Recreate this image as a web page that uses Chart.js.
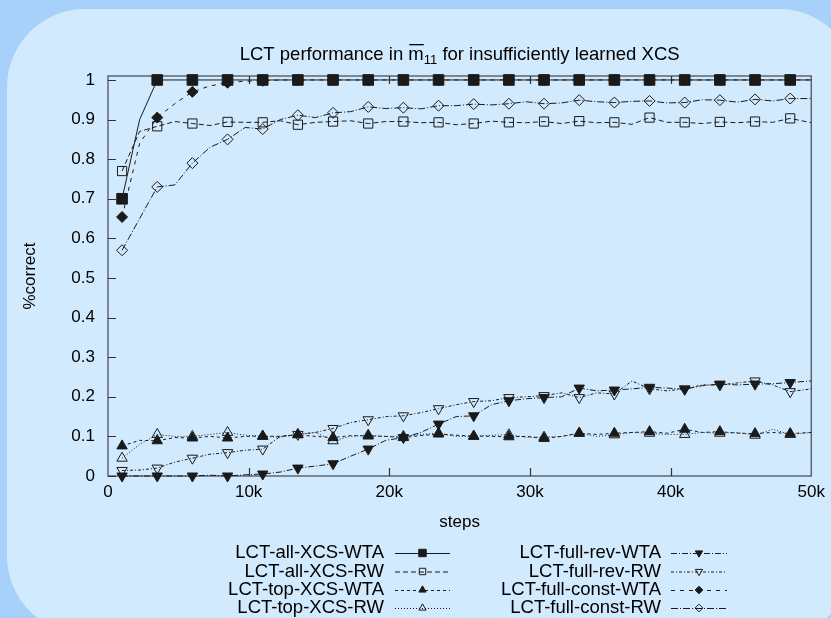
<!DOCTYPE html>
<html>
<head>
<meta charset="utf-8">
<script src="https://cdn.jsdelivr.net/npm/chart.js@4"></script>
<style>
  body { margin: 0; background: #a7d0fa; width: 831px; height: 618px; overflow: hidden; position: relative; font-family: "Liberation Sans", Arial, sans-serif; }
  #panel { position: absolute; left: 7px; top: 9px; width: 850px; height: 625px; background: #d2eafd; border-radius: 78px; }
  #c { position: absolute; left: 0; top: 0; }
</style>
</head>
<body>
<div id="panel"></div>
<canvas id="c" width="831" height="618"></canvas>
<script>
// x positions (steps) of the sampled values
const steps = [1000, 2250, 3500, 4750, 6000, 7250, 8500, 9750, 11000, 12250,
  13500, 14750, 16000, 17250, 18500, 19750, 21000, 22250, 23500, 24750,
  26000, 27250, 28500, 29750, 31000, 32250, 33500, 34750, 36000, 37250,
  38500, 39750, 41000, 42250, 43500, 44750, 46000, 47250, 48500, 50000];

const allXcsWta = [0.70, 0.90, 1, 1, 1, 1, 1, 1, 1, 1,
  1, 1, 1, 1, 1, 1, 1, 1, 1, 1,
  1, 1, 1, 1, 1, 1, 1, 1, 1, 1,
  1, 1, 1, 1, 1, 1, 1, 1, 1, 1];
const allXcsRw = [0.77, 0.87, 0.883, 0.895, 0.89, 0.885, 0.894, 0.893, 0.893, 0.897,
  0.887, 0.893, 0.895, 0.897, 0.89, 0.895, 0.895, 0.892, 0.893, 0.887,
  0.89, 0.896, 0.893, 0.892, 0.895, 0.89, 0.896, 0.892, 0.893, 0.888,
  0.905, 0.893, 0.893, 0.89, 0.894, 0.892, 0.895, 0.893, 0.903, 0.892];
const topXcsWta = [0.076, 0.09, 0.089, 0.097, 0.096, 0.1, 0.096, 0.1, 0.101, 0.1,
  0.104, 0.1, 0.097, 0.102, 0.101, 0.1, 0.097, 0.102, 0.106, 0.103,
  0.101, 0.1, 0.099, 0.1, 0.095, 0.1, 0.108, 0.105, 0.108, 0.11,
  0.112, 0.108, 0.118, 0.11, 0.112, 0.108, 0.107, 0.11, 0.107, 0.11];
const topXcsRw = [0.045, 0.08, 0.105, 0.1, 0.1, 0.105, 0.11, 0.103, 0.1, 0.098,
  0.105, 0.11, 0.089, 0.1, 0.103, 0.1, 0.1, 0.105, 0.108, 0.1,
  0.1, 0.103, 0.104, 0.098, 0.098, 0.1, 0.108, 0.1, 0.104, 0.11,
  0.108, 0.105, 0.105, 0.11, 0.108, 0.11, 0.103, 0.118, 0.105, 0.11];
const fullRevWta = [0, 0, 0, 0, 0, 0.002, 0, 0.003, 0.005, 0.01,
  0.02, 0.025, 0.031, 0.05, 0.068, 0.09, 0.097, 0.11, 0.131, 0.15,
  0.152, 0.18, 0.19, 0.195, 0.198, 0.2, 0.222, 0.215, 0.217, 0.22,
  0.224, 0.222, 0.219, 0.228, 0.232, 0.23, 0.232, 0.233, 0.236, 0.24];
const fullRevRw = [0.014, 0.015, 0.02, 0.035, 0.045, 0.055, 0.059, 0.065, 0.068, 0.1,
  0.105, 0.11, 0.12, 0.135, 0.142, 0.15, 0.152, 0.16, 0.17, 0.18,
  0.188, 0.19, 0.198, 0.2, 0.203, 0.21, 0.198, 0.21, 0.207, 0.24,
  0.22, 0.215, 0.22, 0.23, 0.23, 0.235, 0.24, 0.23, 0.213, 0.22];
const fullConstWta = [0.654, 0.84, 0.905, 0.94, 0.97, 0.985, 0.993, 0.997, 0.998, 1,
  1, 1, 1, 1, 1, 1, 1, 1, 1, 1,
  1, 1, 1, 1, 1, 1, 1, 1, 1, 1,
  1, 1, 1, 1, 1, 1, 1, 1, 1, 1];
const fullConstRw = [0.57, 0.65, 0.73, 0.735, 0.79, 0.83, 0.85, 0.88, 0.876, 0.9,
  0.911, 0.905, 0.917, 0.92, 0.932, 0.928, 0.93, 0.927, 0.935, 0.935,
  0.939, 0.937, 0.94, 0.945, 0.94, 0.942, 0.949, 0.945, 0.943, 0.946,
  0.947, 0.942, 0.943, 0.95, 0.949, 0.944, 0.951, 0.947, 0.953, 0.953];

const yTicks = [0, 0.1, 0.2, 0.3, 0.4, 0.5, 0.6, 0.7, 0.8, 0.9, 1];
const xTicks = [0, 10000, 20000, 30000, 40000, 50000];

const FONT = '"Liberation Sans", Arial, sans-serif';
const INK = '#1a1a1a';

function series(label, values, dash, style, radius, filled, rotation) {
  return {
    label: label,
    data: steps.map((s, i) => ({ x: s, y: values[i] })),
    borderColor: INK,
    borderWidth: 1,
    borderDash: dash,
    pointStyle: style,
    rotation: rotation || 0,
    pointBorderColor: INK,
    pointBorderWidth: 1,
    pointBackgroundColor: filled ? INK : 'rgba(0,0,0,0)',
    pointRadius: ctx => (ctx.dataIndex % 2 === 0 && ctx.dataIndex < 39) ? radius : 0,
    pointHoverRadius: 0,
    tension: 0,
    clip: false,
    legendRadius: radius * 0.7
  };
}

// frame, inward ticks, title and two-column legend
const decor = {
  id: 'decor',
  beforeDatasetsDraw(chart) {
    const { ctx, chartArea: a, scales } = chart;
    ctx.save();
    ctx.strokeStyle = '#5f6672';
    ctx.lineWidth = 1.5;
    ctx.strokeRect(a.left, a.top, a.right - a.left, a.bottom - a.top);
    ctx.lineWidth = 1.2;
    ctx.strokeStyle = '#333';
    ctx.beginPath();
    yTicks.forEach(v => {
      const y = Math.round(scales.y.getPixelForValue(v)) + 0.5;
      ctx.moveTo(a.left, y); ctx.lineTo(a.left + 8, y);
    });
    xTicks.slice(1, -1).forEach(v => {
      const x = Math.round(scales.x.getPixelForValue(v)) + 0.5;
      ctx.moveTo(x, a.bottom); ctx.lineTo(x, a.bottom - 8);
      ctx.moveTo(x, a.top); ctx.lineTo(x, a.top + 8);
    });
    ctx.stroke();
    ctx.restore();
  },
  afterDraw(chart) {
    const { ctx, chartArea: a } = chart;
    ctx.save();
    // title with overlined m and subscript 11
    const big = '18.5px ' + FONT, small = '13px ' + FONT;
    const p1 = 'LCT performance in ', m = 'm', sub = '11', p2 = ' for insufficiently learned XCS';
    ctx.font = big;
    const w1 = ctx.measureText(p1).width, wm = ctx.measureText(m).width, w2 = ctx.measureText(p2).width;
    ctx.font = small;
    const ws = ctx.measureText(sub).width;
    let x = (a.left + a.right) / 2 - (w1 + wm + ws + w2) / 2;
    const base = 60;
    ctx.fillStyle = '#000';
    ctx.textBaseline = 'alphabetic';
    ctx.textAlign = 'left';
    ctx.font = big;
    ctx.fillText(p1, x, base); x += w1;
    ctx.fillText(m, x, base);
    ctx.fillRect(x + 1, base - 16, wm - 1, 1.3);
    x += wm;
    ctx.font = small;
    ctx.fillText(sub, x, base + 4); x += ws;
    ctx.font = big;
    ctx.fillText(p2, x, base);

    // legend
    const cols = [{ textRight: 384, x1: 395, x2: 450 }, { textRight: 661, x1: 671, x2: 727 }];
    const rows = [553, 571.5, 590, 608];
    chart.data.datasets.forEach((ds, i) => {
      const c = cols[Math.floor(i / 4)], y = rows[i % 4];
      ctx.font = '18.5px ' + FONT;
      ctx.textAlign = 'right';
      ctx.textBaseline = 'middle';
      ctx.fillStyle = '#000';
      ctx.fillText(ds.label, c.textRight, y);
      ctx.strokeStyle = INK;
      ctx.lineWidth = 1;
      ctx.setLineDash(ds.borderDash);
      ctx.beginPath();
      ctx.moveTo(c.x1, y + 0.5); ctx.lineTo(c.x2, y + 0.5);
      ctx.stroke();
      ctx.setLineDash([]);
      ctx.fillStyle = ds.pointBackgroundColor;
      Chart.helpers.drawPoint(ctx, { pointStyle: ds.pointStyle, rotation: ds.rotation, radius: ds.legendRadius, borderWidth: 1 }, (c.x1 + c.x2) / 2, y);
    });
    ctx.restore();
  }
};

new Chart(document.getElementById('c'), {
  type: 'line',
  data: {
    datasets: [
      series('LCT-all-XCS-WTA', allXcsWta, [], 'rect', 7.5, true),
      series('LCT-all-XCS-RW', allXcsRw, [5, 3], 'rect', 6.5, false),
      series('LCT-top-XCS-WTA', topXcsWta, [3, 3], 'triangle', 6, true),
      series('LCT-top-XCS-RW', topXcsRw, [1, 2], 'triangle', 6, false),
      series('LCT-full-rev-WTA', fullRevWta, [6, 2, 1, 2], 'triangle', 6, true, 180),
      series('LCT-full-rev-RW', fullRevRw, [3, 2, 1, 2], 'triangle', 6, false, 180),
      series('LCT-full-const-WTA', fullConstWta, [4, 5], 'rectRot', 5.5, true),
      series('LCT-full-const-RW', fullConstRw, [7, 2, 1, 2], 'rectRot', 5.5, false)
    ]
  },
  options: {
    responsive: false,
    animation: false,
    devicePixelRatio: 1,
    layout: { padding: { top: 76, right: 18, bottom: 80, left: 0 } },
    plugins: { legend: { display: false }, title: { display: false }, tooltip: { enabled: false } },
    scales: {
      x: {
        type: 'linear',
        min: 0,
        max: 50000,
        afterFit: s => { s.height = 62; },
        grid: { display: false, drawTicks: false },
        border: { display: false },
        ticks: {
          stepSize: 10000,
          padding: 6,
          color: '#000',
          font: { family: FONT, size: 17 },
          maxRotation: 0,
          callback: v => v === 0 ? '0' : (v / 1000) + 'k'
        },
        title: { display: true, text: 'steps', color: '#000', font: { family: FONT, size: 17 }, padding: { top: 0, bottom: 5 } }
      },
      y: {
        min: 0,
        max: 1.01,
        afterFit: s => { s.width = 108; },
        grid: { display: false, drawTicks: false },
        border: { display: false },
        ticks: {
          stepSize: 0.1,
          includeBounds: false,
          padding: 13,
          color: '#000',
          font: { family: FONT, size: 17 },
          callback: v => String(Math.round(v * 10) / 10)
        },
        title: { display: true, text: '%correct', color: '#000', font: { family: FONT, size: 17 }, padding: { top: 20, bottom: 0 } }
      }
    }
  },
  plugins: [decor]
});
</script>
</body>
</html>
